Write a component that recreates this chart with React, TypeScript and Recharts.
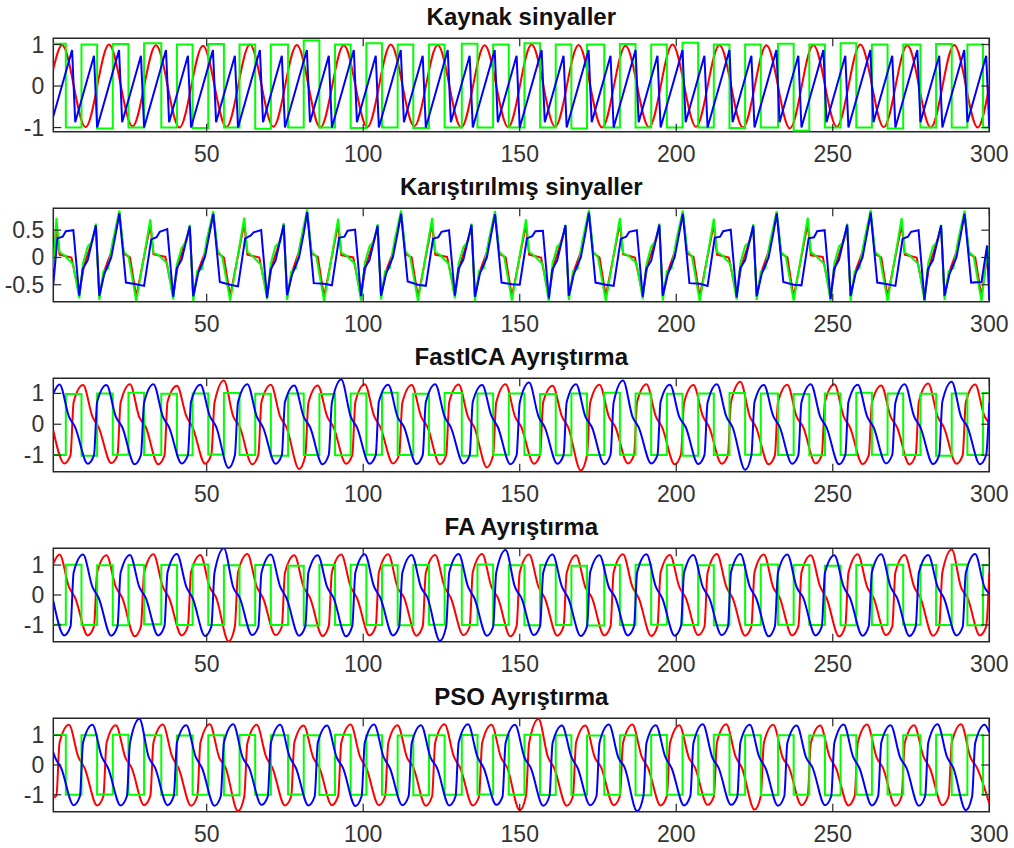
import React from "react";
import { LineChart, Line, XAxis, YAxis, ReferenceArea } from "recharts";

type Pt = [number, number];

const xTicks = [50, 100, 150, 200, 250, 300];

// Kaynak sinyaller
const kaynakRed: Pt[] = [[1,0.41],[3.8,0.99],[11.3,-0.99],[18.8,1],[26.3,-0.97],[33.8,0.98],[41.3,-1],[48.8,0.97],[56.3,-0.99],[63.8,1],[71.3,-0.98],[78.8,0.99],[86.3,-1],[93.8,0.98],[101.3,-0.99],[108.8,1],[116.3,-0.97],[123.8,0.99],[131.3,-1],[138.8,0.98],[146.3,-0.99],[153.8,1],[161.3,-0.98],[168.8,0.99],[176.3,-1],[183.8,0.97],[191.3,-0.99],[198.8,1],[206.3,-0.98],[213.8,0.99],[221.3,-1],[228.8,0.98],[236.3,-1.02],[243.8,0.99],[251.3,-0.98],[258.8,1],[266.3,-0.99],[273.8,0.98],[281.3,-1],[288.8,0.99],[296.3,-1],[300,0]];
const kaynakGreen: Pt[] = [[1,1.02],[5,-1],[10,1],[15,-1.02],[20,1.01],[25,-1],[30,1.03],[35.5,-1],[40.5,1],[45.5,-1.01],[50.5,1.01],[55.5,-1],[60.5,1],[65.5,-1.03],[70.5,1],[76,-1],[81,1.1],[86,-1],[91,1],[96,-1.01],[101,1.03],[106,-1],[111,1],[116,-1.01],[121,1],[126,-1],[131.5,1.02],[136.5,-1],[141.5,1],[146.5,-1],[151.5,1.03],[156.5,-1],[161.5,1],[166.5,-1.02],[171.5,1],[177,-1],[182,1.01],[187,-1],[192,1],[197,-1],[202,1.04],[207,-1],[212,1],[217,-1.01],[222,1],[227,-1],[232.5,1.02],[237.5,-1.08],[242.5,1],[247.5,-1],[252.5,1.03],[257.5,-1],[262.5,1],[267.5,-1.02],[272.5,1],[278,-1],[283,1.01],[288,-1],[293,1],[298,-1],[300,-1]];
const kaynakBlue: Pt[] = [[1,-0.73],[7,0.87],[8,-0.87],[14,0.73],[15,-1],[22,0.87],[23,-0.87],[29,0.73],[30,-1],[37,0.87],[38,-0.87],[44,0.73],[45,-1],[52,0.87],[53,-0.87],[59,0.73],[60,-1],[67,0.87],[68,-0.87],[74,0.73],[75,-1],[82,0.87],[83,-0.87],[89,0.73],[90,-1],[97,0.87],[98,-0.87],[104,0.73],[105,-1],[112,0.87],[113,-0.87],[119,0.73],[120,-1],[127,0.87],[128,-0.87],[134,0.73],[135,-1],[142,0.87],[143,-0.87],[149,0.73],[150,-1],[157,0.87],[158,-0.87],[164,0.73],[165,-1],[172,0.87],[173,-0.87],[179,0.73],[180,-1],[187,0.87],[188,-0.87],[194,0.73],[195,-1],[202,0.87],[203,-0.87],[209,0.73],[210,-1],[217,0.87],[218,-0.87],[224,0.73],[225,-1],[232,0.87],[233,-0.87],[239,0.73],[240,-1],[247,0.87],[248,-0.87],[254,0.73],[255,-1],[262,0.87],[263,-0.87],[269,0.73],[270,-1],[277,0.87],[278,-0.87],[284,0.73],[285,-1],[292,0.87],[293,-0.87],[299,0.73],[300,-1]];

// Karıştırılmış sinyaller
const karisikRed: Pt[] = [[1,-0.15],[2,0.62],[3,0.05],[6.8,0],[9.3,-0.68],[10.8,-0.15],[12.5,0.15],[14.6,0.55],[15.7,-0.72],[17.3,-0.25],[19.5,0.1],[22.1,0.8],[23.5,0.07],[25.5,0],[27.5,-0.72],
[32,0.6],[33,0.06],[36.8,0.01],[39.3,-0.7],[40.8,-0.14],[42.5,0.16],[44.6,0.54],[45.7,-0.73],[47.3,-0.24],[49.5,0.1],[52.1,0.79],[53.5,0.08],[55.5,0],[57.5,-0.71],
[62,0.63],[63,0.05],[66.8,0],[69.3,-0.69],[70.8,-0.15],[72.5,0.14],[74.6,0.56],[75.7,-0.72],[77.3,-0.26],[79.5,0.11],[82.1,0.81],[83.5,0.07],[85.5,0.01],[87.5,-0.72],
[92,0.61],[93,0.04],[96.8,0],[99.3,-0.7],[100.8,-0.15],[102.5,0.15],[104.6,0.55],[105.7,-0.71],[107.3,-0.25],[109.5,0.09],[112.1,0.8],[113.5,0.06],[115.5,0],[117.5,-0.73],
[122,0.62],[123,0.05],[126.8,0.01],[129.3,-0.68],[130.8,-0.16],[132.5,0.15],[134.6,0.54],[135.7,-0.72],[137.3,-0.25],[139.5,0.1],[142.1,0.79],[143.5,0.07],[145.5,0],[147.5,-0.72],
[152,0.6],[153,0.05],[156.8,0],[159.3,-0.71],[160.8,-0.15],[162.5,0.16],[164.6,0.55],[165.7,-0.73],[167.3,-0.25],[169.5,0.1],[172.1,0.81],[173.5,0.08],[175.5,0],[177.5,-0.71],
[182,0.63],[183,0.06],[186.8,0],[189.3,-0.69],[190.8,-0.14],[192.5,0.15],[194.6,0.56],[195.7,-0.72],[197.3,-0.26],[199.5,0.1],[202.1,0.8],[203.5,0.07],[205.5,0.01],[207.5,-0.72],
[212,0.61],[213,0.05],[216.8,0],[219.3,-0.7],[220.8,-0.15],[222.5,0.14],[224.6,0.54],[225.7,-0.71],[227.3,-0.25],[229.5,0.11],[232.1,0.79],[233.5,0.07],[235.5,0],[237.5,-0.73],
[242,0.62],[243,0.04],[246.8,0.01],[249.3,-0.72],[250.8,-0.15],[252.5,0.15],[254.6,0.55],[255.7,-0.72],[257.3,-0.24],[259.5,0.1],[262.1,0.8],[263.5,0.06],[265.5,0],[267.5,-0.72],
[272,0.6],[273,0.05],[276.8,0],[279.3,-0.72],[280.8,-0.15],[282.5,0.15],[284.6,0.55],[285.7,-0.72],[287.3,-0.25],[289.5,0.1],[292.1,0.81],[293.5,0.07],[295.5,0],[297.5,-0.72],[299.5,0.1],[300,-0.6]];
const karisikGreen: Pt[] = [[1,-0.2],[2,0.72],[3,0.1],[4.5,0.04],[7.3,-0.12],[9.3,-0.75],[10.5,-0.1],[12,0.2],[13.5,0.3],[14.6,0.62],[15.7,-0.78],[17,-0.25],[18.5,-0.2],[20,0.3],[22.1,0.86],[23.5,0.1],[25,0.02],[27.5,-0.8],
[32,0.7],[33,0.08],[34.5,0.05],[37.3,-0.1],[39.3,-0.77],[40.5,-0.12],[42,0.18],[43.5,0.3],[44.6,0.6],[45.7,-0.8],[47,-0.24],[48.5,-0.21],[50,0.32],[52.1,0.85],[53.5,0.12],[55,0],[57.5,-0.79],
[62,0.73],[63,0.1],[64.5,0.03],[67.3,-0.13],[69.3,-0.76],[70.5,-0.1],[72,0.21],[73.5,0.29],[74.6,0.63],[75.7,-0.78],[77,-0.26],[78.5,-0.2],[80,0.3],[82.1,0.88],[83.5,0.1],[85,0.02],[87.5,-0.8],
[92,0.71],[93,0.09],[94.5,0.04],[97.3,-0.11],[99.3,-0.79],[100.5,-0.1],[102,0.2],[103.5,0.31],[104.6,0.61],[105.7,-0.77],[107,-0.25],[108.5,-0.19],[110,0.31],[112.1,0.86],[113.5,0.11],[115,0.01],[117.5,-0.8],
[122,0.72],[123,0.1],[124.5,0.05],[127.3,-0.12],[129.3,-0.75],[130.5,-0.11],[132,0.19],[133.5,0.3],[134.6,0.62],[135.7,-0.8],[137,-0.24],[138.5,-0.2],[140,0.29],[142.1,0.85],[143.5,0.1],[145,0.02],[147.5,-0.79],
[152,0.7],[153,0.1],[154.5,0.04],[157.3,-0.12],[159.3,-0.8],[160.5,-0.1],[162,0.2],[163.5,0.3],[164.6,0.6],[165.7,-0.78],[167,-0.25],[168.5,-0.21],[170,0.3],[172.1,0.87],[173.5,0.1],[175,0],[177.5,-0.8],
[182,0.72],[183,0.08],[184.5,0.04],[187.3,-0.1],[189.3,-0.76],[190.5,-0.12],[192,0.2],[193.5,0.31],[194.6,0.62],[195.7,-0.79],[197,-0.25],[198.5,-0.2],[200,0.31],[202.1,0.86],[203.5,0.12],[205,0.02],[207.5,-0.8],
[212,0.71],[213,0.1],[214.5,0.05],[217.3,-0.12],[219.3,-0.77],[220.5,-0.1],[222,0.21],[223.5,0.3],[224.6,0.61],[225.7,-0.78],[227,-0.26],[228.5,-0.2],[230,0.3],[232.1,0.85],[233.5,0.1],[235,0.01],[237.5,-0.79],
[242,0.73],[243,0.1],[244.5,0.03],[247.3,-0.12],[249.3,-0.8],[250.5,-0.11],[252,0.2],[253.5,0.29],[254.6,0.62],[255.7,-0.8],[257,-0.25],[258.5,-0.2],[260,0.3],[262.1,0.87],[263.5,0.1],[265,0.02],[267.5,-0.8],
[272,0.72],[273,0.09],[274.5,0.04],[277.3,-0.12],[279.3,-0.8],[280.5,-0.1],[282,0.2],[283.5,0.3],[284.6,0.6],[285.7,-0.78],[287,-0.25],[288.5,-0.2],[290,0.31],[292.1,0.86],[293.5,0.1],[295,0.02],[297.5,-0.8],[299.5,0.2],[300,-0.75]];
const karisikBlue: Pt[] = [[1,-0.5],[2.3,0.35],[4,0.38],[5,0.48],[7.4,0.5],[9.3,-0.7],[10.4,-0.21],[12,-0.05],[14.6,0.59],[15.7,-0.7],[17.3,-0.3],[19.5,0],[21,0.45],[22.1,0.81],[24.2,-0.46],[27.5,-0.49],
[30,-0.52],[32.3,0.33],[34,0.37],[35,0.47],[37.4,0.52],[39.3,-0.72],[40.4,-0.2],[42,-0.04],[44.6,0.57],[45.7,-0.71],[47.3,-0.28],[49.5,0.02],[51,0.47],[52.1,0.8],[54.2,-0.45],[57.5,-0.5],
[60,-0.53],[62.3,0.35],[64,0.4],[65,0.46],[67.4,0.5],[69.3,-0.74],[70.4,-0.22],[72,-0.06],[74.6,0.6],[75.7,-0.69],[77.3,-0.31],[79.5,0],[81,0.44],[82.1,0.83],[84.2,-0.47],[87.5,-0.48],
[90,-0.51],[92.3,0.36],[94,0.38],[95,0.49],[97.4,0.51],[99.3,-0.71],[100.4,-0.2],[102,-0.05],[104.6,0.58],[105.7,-0.7],[107.3,-0.3],[109.5,0.01],[111,0.45],[112.1,0.8],[114.2,-0.44],[117.5,-0.5],
[120,-0.52],[122.3,0.34],[124,0.37],[125,0.47],[127.4,0.5],[129.3,-0.7],[130.4,-0.21],[132,-0.04],[134.6,0.6],[135.7,-0.72],[137.3,-0.29],[139.5,0],[141,0.46],[142.1,0.79],[144.2,-0.46],[147.5,-0.49],
[150,-0.5],[152.3,0.35],[154,0.39],[155,0.48],[157.4,0.49],[159.3,-0.75],[160.4,-0.22],[162,-0.05],[164.6,0.59],[165.7,-0.7],[167.3,-0.3],[169.5,0],[171,0.45],[172.1,0.82],[174.2,-0.46],[177.5,-0.5],
[180,-0.52],[182.3,0.34],[184,0.38],[185,0.47],[187.4,0.5],[189.3,-0.72],[190.4,-0.21],[192,-0.06],[194.6,0.6],[195.7,-0.7],[197.3,-0.31],[199.5,0.01],[201,0.46],[202.1,0.8],[204.2,-0.47],[207.5,-0.48],
[210,-0.52],[212.3,0.36],[214,0.38],[215,0.48],[217.4,0.51],[219.3,-0.73],[220.4,-0.2],[222,-0.05],[224.6,0.58],[225.7,-0.71],[227.3,-0.3],[229.5,0],[231,0.44],[232.1,0.81],[234.2,-0.45],[237.5,-0.5],
[240,-0.51],[242.3,0.35],[244,0.37],[245,0.48],[247.4,0.5],[249.3,-0.76],[250.4,-0.21],[252,-0.04],[254.6,0.6],[255.7,-0.7],[257.3,-0.29],[259.5,0],[261,0.46],[262.1,0.82],[264.2,-0.46],[267.5,-0.49],
[270,-0.52],[272.3,0.34],[274,0.38],[275,0.47],[277.4,0.5],[279.3,-0.78],[280.4,-0.21],[282,-0.05],[284.6,0.59],[285.7,-0.7],[287.3,-0.3],[289.5,0],[291,0.45],[292.1,0.8],[294.2,-0.46],[297.5,-0.45],[299.3,0.22],[300,-0.78]];

// FastICA Ayrıştırma
const fasticaRed: Pt[] = [[1,-0.2],[4.5,-1.27],[6.5,-1],
[7.5,0.72],[10.5,1.27],[13.5,0.25],[15.5,-0.1],[19.5,-1.26],[21.5,-1],[22.5,0.7],[25.5,1.3],[28.5,0.22],[30.5,-0.08],[34.5,-1.3],[36.5,-1.02],
[37.5,0.74],[40.5,1.25],[43.5,0.26],[45.5,-0.1],[49.5,-1.28],[51.5,-0.98],[52.5,0.7],[55.5,1.42],[58.5,0.25],[60.5,-0.07],[64.5,-1.3],[66.5,-1],
[67.5,0.72],[70.5,1.28],[73.5,0.24],[75.5,-0.1],[79.5,-1.45],[81.5,-1.02],[82.5,0.7],[85.5,1.26],[88.5,0.25],[90.5,-0.09],[94.5,-1.28],[96.5,-1],
[97.5,0.73],[100.5,1.3],[103.5,0.26],[105.5,-0.1],[109.5,-1.27],[111.5,-0.99],[112.5,0.7],[115.5,1.27],[118.5,0.25],[120.5,-0.08],[124.5,-1.3],[126.5,-1],
[127.5,0.72],[130.5,1.29],[133.5,0.23],[135.5,-0.1],[139.5,-1.4],[141.5,-1.01],[142.5,0.71],[145.5,1.3],[148.5,0.25],[150.5,-0.09],[154.5,-1.28],[156.5,-1],
[157.5,0.72],[160.5,1.25],[163.5,0.25],[165.5,-0.1],[169.5,-1.5],[171.5,-1],[172.5,0.7],[175.5,1.28],[178.5,0.24],[180.5,-0.08],[184.5,-1.27],[186.5,-1],
[187.5,0.73],[190.5,1.3],[193.5,0.25],[195.5,-0.1],[199.5,-1.3],[201.5,-0.98],[202.5,0.7],[205.5,1.27],[208.5,0.26],[210.5,-0.09],[214.5,-1.28],[216.5,-1],
[217.5,0.72],[220.5,1.38],[223.5,0.25],[225.5,-0.1],[229.5,-1.3],[231.5,-1.01],[232.5,0.71],[235.5,1.28],[238.5,0.23],[240.5,-0.08],[244.5,-1.27],[246.5,-1],
[247.5,0.72],[250.5,1.3],[253.5,0.25],[255.5,-0.1],[259.5,-1.29],[261.5,-1],[262.5,0.7],[265.5,1.26],[268.5,0.24],[270.5,-0.09],[274.5,-1.3],[276.5,-0.99],
[277.5,0.73],[280.5,1.32],[283.5,0.25],[285.5,-0.1],[289.5,-1.28],[291.5,-1],[292.5,0.71],[295.5,1.29],[298.5,0.25],[300,0.05]];
const fasticaGreen: Pt[] = [[1,-1],[5,0.98],[10,-1.02],[15,1],[20,-0.99],[25,1.02],[30,-1],[35.5,0.99],[40.5,-1.01],[45.5,1],[50.5,-0.98],[55.5,1.01],[60.5,-1],[65.5,0.99],[70.5,-1.02],[76,1],[81,-1],[86,0.98],[91,-1.01],[96,1],[101,-0.99],[106,1.02],[111,-1],[116,0.99],[121,-1],[126,1.01],[131.5,-1.02],[136.5,1],[141.5,-0.99],[146.5,1],[151.5,-1],[156.5,0.98],[161.5,-1.01],[166.5,1],[171.5,-1],[177,1.02],[182,-0.99],[187,1],[192,-1],[197,0.99],[202,-1.02],[207,1],[212,-1],[217,1.01],[222,-0.99],[227,1],[232.5,-1],[237.5,0.98],[242.5,-1.01],[247.5,1],[252.5,-1],[257.5,1.02],[262.5,-0.99],[267.5,1],[272.5,-1],[278,0.99],[283,-1.02],[288,1],[293,-1],[298,1.01],[300,1.01]];
const fasticaBlue: Pt[] = [[1,1],[3,1.29],[6,0.25],[8,-0.1],[12,-1.28],[14,-1],
[15,0.72],[18,1.27],[21,0.24],[23,-0.09],[27,-1.3],[29,-1],[30,0.7],[33,1.3],[36,0.25],[38,-0.1],[42,-1.27],[44,-1],
[45,0.73],[48,1.28],[51,0.26],[53,-0.08],[57,-1.42],[59,-1.01],[60,0.71],[63,1.3],[66,0.25],[68,-0.1],[72,-1.28],[74,-1],
[75,0.72],[78,1.26],[81,0.24],[83,-0.09],[87,-1.3],[89,-0.99],[90,0.7],[93,1.45],[96,0.25],[98,-0.1],[102,-1.28],[104,-1],
[105,0.73],[108,1.28],[111,0.23],[113,-0.08],[117,-1.29],[119,-1],[120,0.71],[123,1.3],[126,0.25],[128,-0.1],[132,-1.27],[134,-1.01],
[135,0.72],[138,1.27],[141,0.26],[143,-0.09],[147,-1.3],[149,-1],[150,0.7],[153,1.35],[156,0.25],[158,-0.1],[162,-1.28],[164,-1],
[165,0.72],[168,1.3],[171,0.24],[173,-0.08],[177,-1.3],[179,-0.99],[180,0.71],[183,1.42],[186,0.25],[188,-0.1],[192,-1.27],[194,-1],
[195,0.73],[198,1.28],[201,0.23],[203,-0.09],[207,-1.29],[209,-1],[210,0.7],[213,1.3],[216,0.25],[218,-0.1],[222,-1.48],[224,-1.01],
[225,0.72],[228,1.27],[231,0.26],[233,-0.08],[237,-1.28],[239,-1],[240,0.71],[243,1.3],[246,0.24],[248,-0.1],[252,-1.3],[254,-1],
[255,0.72],[258,1.28],[261,0.25],[263,-0.09],[267,-1.27],[269,-0.99],[270,0.7],[273,1.3],[276,0.25],[278,-0.1],[282,-1.29],[284,-1],
[285,0.73],[288,1.38],[291,0.24],[293,-0.08],[297,-1.3],[299,-1],[300,0.7]];

// FA Ayrıştırma
const faRed: Pt[] = [[1,1.05],[3,1.35],[6,0.27],[8,-0.1],[12,-1.35],[14,-1.05],
[15,0.75],[18,1.33],[21,0.26],[23,-0.09],[27,-1.38],[29,-1.05],[30,0.74],[33,1.36],[36,0.27],[38,-0.1],[42,-1.35],[44,-1.04],
[45,0.76],[48,1.34],[51,0.25],[53,-0.08],[57,-1.55],[59,-1.05],[60,0.75],[63,1.37],[66,0.27],[68,-0.1],[72,-1.34],[74,-1.06],
[75,0.74],[78,1.33],[81,0.26],[83,-0.09],[87,-1.37],[89,-1.04],[90,0.76],[93,1.35],[96,0.27],[98,-0.1],[102,-1.35],[104,-1.05],
[105,0.75],[108,1.36],[111,0.25],[113,-0.08],[117,-1.36],[119,-1.05],[120,0.74],[123,1.34],[126,0.27],[128,-0.1],[132,-1.34],[134,-1.06],
[135,0.76],[138,1.37],[141,0.26],[143,-0.09],[147,-1.38],[149,-1.04],[150,0.75],[153,1.35],[156,0.27],[158,-0.1],[162,-1.36],[164,-1.05],
[165,0.74],[168,1.33],[171,0.25],[173,-0.08],[177,-1.35],[179,-1.05],[180,0.76],[183,1.36],[186,0.27],[188,-0.1],[192,-1.37],[194,-1.04],
[195,0.75],[198,1.34],[201,0.26],[203,-0.09],[207,-1.34],[209,-1.06],[210,0.74],[213,1.37],[216,0.27],[218,-0.1],[222,-1.36],[224,-1.05],
[225,0.76],[228,1.35],[231,0.25],[233,-0.08],[237,-1.35],[239,-1.05],[240,0.75],[243,1.33],[246,0.27],[248,-0.1],[252,-1.38],[254,-1.04],
[255,0.74],[258,1.36],[261,0.26],[263,-0.09],[267,-1.34],[269,-1.05],[270,0.76],[273,1.34],[276,0.27],[278,-0.1],[282,-1.36],[284,-1.06],
[285,0.75],[288,1.52],[291,0.25],[293,-0.08],[297,-1.35],[299,-1.05],[300,0.75]];
const faGreen: Pt[] = [[1,-0.99],[5,1.01],[10,-1],[15,0.99],[20,-1.01],[25,1],[30,-0.98],[35.5,1],[40.5,-1],[45.5,1.02],[50.5,-1],[55.5,0.99],[60.5,-1.01],[65.5,1],[70.5,-1],[76,0.98],[81,-1.02],[86,1],[91,-1],[96,1.01],[101,-1],[106,0.99],[111,-1.01],[116,1],[121,-0.99],[126,1],[131.5,-1],[136.5,1.02],[141.5,-1],[146.5,0.99],[151.5,-1.01],[156.5,1],[161.5,-1],[166.5,0.98],[171.5,-1.02],[177,1],[182,-1],[187,1.01],[192,-0.99],[197,1],[202,-1],[207,0.99],[212,-1.01],[217,1],[222,-1],[227,1.02],[232.5,-0.99],[237.5,1],[242.5,-1],[247.5,0.98],[252.5,-1.01],[257.5,1],[262.5,-1],[267.5,1.01],[272.5,-0.99],[278,1],[283,-1],[288,1.02],[293,-1.01],[298,1],[300,1]];
const faBlue: Pt[] = [[1,-0.2],[4.5,-1.35],[6.5,-1.05],
[7.5,0.75],[10.5,1.35],[13.5,0.27],[15.5,-0.1],[19.5,-1.36],[21.5,-1.05],[22.5,0.74],[25.5,1.34],[28.5,0.26],[30.5,-0.09],[34.5,-1.35],[36.5,-1.04],
[37.5,0.76],[40.5,1.37],[43.5,0.27],[45.5,-0.1],[49.5,-1.37],[51.5,-1.05],[52.5,0.75],[55.5,1.56],[58.5,0.25],[60.5,-0.08],[64.5,-1.34],[66.5,-1.06],
[67.5,0.74],[70.5,1.35],[73.5,0.27],[75.5,-0.1],[79.5,-1.36],[81.5,-1.05],[82.5,0.76],[85.5,1.33],[88.5,0.26],[90.5,-0.09],[94.5,-1.38],[96.5,-1.04],
[97.5,0.75],[100.5,1.36],[103.5,0.27],[105.5,-0.1],[109.5,-1.35],[111.5,-1.05],[112.5,0.74],[115.5,1.34],[118.5,0.25],[120.5,-0.08],[124.5,-1.53],[126.5,-1.05],
[127.5,0.76],[130.5,1.37],[133.5,0.27],[135.5,-0.1],[139.5,-1.36],[141.5,-1.06],[142.5,0.75],[145.5,1.5],[148.5,0.26],[150.5,-0.09],[154.5,-1.34],[156.5,-1.04],
[157.5,0.74],[160.5,1.35],[163.5,0.27],[165.5,-0.1],[169.5,-1.37],[171.5,-1.05],[172.5,0.76],[175.5,1.33],[178.5,0.25],[180.5,-0.08],[184.5,-1.35],[186.5,-1.05],
[187.5,0.75],[190.5,1.36],[193.5,0.27],[195.5,-0.1],[199.5,-1.36],[201.5,-1.04],[202.5,0.74],[205.5,1.34],[208.5,0.26],[210.5,-0.09],[214.5,-1.34],[216.5,-1.06],
[217.5,0.76],[220.5,1.37],[223.5,0.27],[225.5,-0.1],[229.5,-1.38],[231.5,-1.05],[232.5,0.75],[235.5,1.35],[238.5,0.25],[240.5,-0.08],[244.5,-1.35],[246.5,-1.05],
[247.5,0.74],[250.5,1.33],[253.5,0.27],[255.5,-0.1],[259.5,-1.36],[261.5,-1.04],[262.5,0.76],[265.5,1.36],[268.5,0.26],[270.5,-0.09],[274.5,-1.37],[276.5,-1.05],
[277.5,0.75],[280.5,1.34],[283.5,0.27],[285.5,-0.1],[289.5,-1.35],[291.5,-1.06],[292.5,0.74],[295.5,1.37],[298.5,0.25],[300,0.05]];

// PSO Ayrıştırma
const psoRed: Pt[] = [[1,-1.1],[2,-1.02],
[3,0.75],[6,1.35],[9,0.27],[11,-0.1],[15,-1.36],[17,-1.05],[18,0.74],[21,1.34],[24,0.26],[26,-0.09],[30,-1.35],[32,-1.04],
[33,0.76],[36,1.36],[39,0.27],[41,-0.1],[45,-1.37],[47,-1.05],[48,0.75],[51,1.37],[54,0.25],[56,-0.08],[60,-1.55],[62,-1.06],
[63,0.74],[66,1.35],[69,0.27],[71,-0.1],[75,-1.36],[77,-1.05],[78,0.76],[81,1.33],[84,0.26],[86,-0.09],[90,-1.35],[92,-1.04],
[93,0.75],[96,1.36],[99,0.27],[101,-0.1],[105,-1.35],[107,-1.05],[108,0.74],[111,1.34],[114,0.25],[116,-0.08],[120,-1.37],[122,-1.05],
[123,0.76],[126,1.37],[129,0.27],[131,-0.1],[135,-1.36],[137,-1.06],[138,0.75],[141,1.35],[144,0.26],[146,-0.09],[150,-1.52],[152,-1.04],
[153,0.74],[156,1.55],[159,0.27],[161,-0.1],[165,-1.37],[167,-1.05],[168,0.76],[171,1.33],[174,0.25],[176,-0.08],[180,-1.35],[182,-1.05],
[183,0.75],[186,1.36],[189,0.27],[191,-0.1],[195,-1.36],[197,-1.04],[198,0.74],[201,1.34],[204,0.26],[206,-0.09],[210,-1.34],[212,-1.06],
[213,0.76],[216,1.37],[219,0.27],[221,-0.1],[225,-1.5],[227,-1.05],[228,0.75],[231,1.35],[234,0.25],[236,-0.08],[240,-1.35],[242,-1.05],
[243,0.74],[246,1.33],[249,0.27],[251,-0.1],[255,-1.36],[257,-1.04],[258,0.76],[261,1.36],[264,0.26],[266,-0.09],[270,-1.37],[272,-1.05],
[273,0.75],[276,1.34],[279,0.27],[281,-0.1],[285,-1.35],[287,-1.06],[288,0.74],[291,1.37],[294,0.25],[296,-0.08],[300,-1.3]];
const psoGreen: Pt[] = [[1,1.01],[5,-1],[10,1],[15,-0.99],[20,1.02],[25,-1],[30,1],[35.5,-1.01],[40.5,0.99],[45.5,-1],[50.5,1],[55.5,-1.02],[60.5,1.01],[65.5,-1],[70.5,1],[76,-0.99],[81,1],[86,-1.01],[91,1.02],[96,-1],[101,1],[106,-1],[111,0.99],[116,-1.02],[121,1],[126,-1],[131.5,1.01],[136.5,-0.99],[141.5,1],[146.5,-1],[151.5,1.02],[156.5,-1.01],[161.5,1],[166.5,-1],[171.5,0.99],[177,-1],[182,1],[187,-1.02],[192,1.01],[197,-1],[202,1],[207,-0.99],[212,1.02],[217,-1],[222,1],[227,-1.01],[232.5,1],[237.5,-1],[242.5,0.99],[247.5,-1.02],[252.5,1],[257.5,-1],[262.5,1.01],[267.5,-0.99],[272.5,1],[278,-1],[283,1.02],[288,-1.01],[293,1],[298,-1],[300,-1]];
const psoBlue: Pt[] = [[1,0.42],[1.5,0.27],[3.5,-0.1],[7.5,-1.35],[9.5,-1.05],
[10.5,0.75],[13.5,1.35],[16.5,0.27],[18.5,-0.1],[22.5,-1.36],[24.5,-1.05],[25.5,0.74],[28.5,1.55],[31.5,0.26],[33.5,-0.09],[37.5,-1.35],[39.5,-1.04],
[40.5,0.76],[43.5,1.34],[46.5,0.27],[48.5,-0.1],[52.5,-1.37],[54.5,-1.05],[55.5,0.75],[58.5,1.37],[61.5,0.25],[63.5,-0.08],[67.5,-1.34],[69.5,-1.06],
[70.5,0.74],[73.5,1.35],[76.5,0.27],[78.5,-0.1],[82.5,-1.36],[84.5,-1.05],[85.5,0.76],[88.5,1.33],[91.5,0.26],[93.5,-0.09],[97.5,-1.38],[99.5,-1.04],
[100.5,0.75],[103.5,1.36],[106.5,0.27],[108.5,-0.1],[112.5,-1.35],[114.5,-1.05],[115.5,0.74],[118.5,1.34],[121.5,0.25],[123.5,-0.08],[127.5,-1.36],[129.5,-1.05],
[130.5,0.76],[133.5,1.37],[136.5,0.27],[138.5,-0.1],[142.5,-1.34],[144.5,-1.06],[145.5,0.75],[148.5,1.35],[151.5,0.26],[153.5,-0.09],[157.5,-1.37],[159.5,-1.04],
[160.5,0.74],[163.5,1.33],[166.5,0.27],[168.5,-0.1],[172.5,-1.35],[174.5,-1.05],[175.5,0.76],[178.5,1.36],[181.5,0.25],[183.5,-0.08],[187.5,-1.55],[189.5,-1.05],
[190.5,0.75],[193.5,1.34],[196.5,0.27],[198.5,-0.1],[202.5,-1.36],[204.5,-1.04],[205.5,0.74],[208.5,1.37],[211.5,0.26],[213.5,-0.09],[217.5,-1.34],[219.5,-1.06],
[220.5,0.76],[223.5,1.35],[226.5,0.27],[228.5,-0.1],[232.5,-1.37],[234.5,-1.05],[235.5,0.75],[238.5,1.33],[241.5,0.25],[243.5,-0.08],[247.5,-1.35],[249.5,-1.05],
[250.5,0.74],[253.5,1.36],[256.5,0.27],[258.5,-0.1],[262.5,-1.36],[264.5,-1.04],[265.5,0.76],[268.5,1.34],[271.5,0.26],[273.5,-0.09],[277.5,-1.37],[279.5,-1.05],
[280.5,0.75],[283.5,1.37],[286.5,0.27],[288.5,-0.1],[292.5,-1.52],[294.5,-1.06],[295.5,0.74],[298.5,1.35],[300,1.1]];

const W = 1014;
const PANEL_H = 170;
const LEFT = 53.3;
const RIGHT = 24.7;
const TOP = 38.3;
const PLOT_H = 93.4;
const AXIS_H = 30;
const PLOT_W = W - LEFT - RIGHT;
const INK = "#262626";
const FONT = "'Liberation Sans', Arial, Helvetica, sans-serif";

type Curve = "linear" | "monotone" | "stepAfter";
type Series = { pts: Pt[]; color: string; curve: Curve };

const toRows = (pts: Pt[]) => pts.map(([x, y]) => ({ x, y }));

function XTick(props: any) {
  const { x, y, payload } = props;
  return (
    <g>
      <line x1={x} x2={x} y1={y} y2={y - 8} stroke={INK} strokeWidth={1.2} />
      <line x1={x} x2={x} y1={y - PLOT_H} y2={y - PLOT_H + 8} stroke={INK} strokeWidth={1.2} />
      <text x={x} y={y + 30} textAnchor="middle" fontSize={23} fontFamily={FONT} fill="#333">
        {payload.value}
      </text>
    </g>
  );
}

function YTick(props: any) {
  const { x, y, payload } = props;
  return (
    <g>
      <line x1={x} x2={x + 8} y1={y} y2={y} stroke={INK} strokeWidth={1.2} />
      <line x1={x + PLOT_W - 8} x2={x + PLOT_W} y1={y} y2={y} stroke={INK} strokeWidth={1.2} />
      <text x={x - 9} y={y + 8} textAnchor="end" fontSize={23} fontFamily={FONT} fill="#333">
        {String(payload.value)}
      </text>
    </g>
  );
}

function Panel({ index, title, domain, yTicks, series }: { index: number; title: string; domain: [number, number]; yTicks: number[]; series: Series[] }) {
  return (
    <div style={{ position: "absolute", left: 0, top: index * PANEL_H, width: W, height: PANEL_H }}>
      <LineChart
        width={W}
        height={PANEL_H}
        margin={{ top: TOP, right: RIGHT, bottom: PANEL_H - TOP - PLOT_H - AXIS_H, left: 0 }}
      >
        <XAxis
          dataKey="x"
          type="number"
          domain={[1, 300]}
          ticks={xTicks}
          allowDataOverflow
          height={AXIS_H}
          axisLine={false}
          tickLine={false}
          tickSize={0}
          tickMargin={0}
          interval={0}
          tick={<XTick />}
        />
        <YAxis
          type="number"
          domain={domain}
          ticks={yTicks}
          allowDataOverflow
          width={LEFT}
          axisLine={false}
          tickLine={false}
          tickSize={0}
          tickMargin={0}
          interval={0}
          tick={<YTick />}
        />
        <ReferenceArea x1={1} x2={300} y1={domain[0]} y2={domain[1]} fill="none" stroke={INK} strokeWidth={1.5} />
        {series.map((s, i) => (
          <Line
            key={i}
            data={toRows(s.pts)}
            dataKey="y"
            type={s.curve}
            stroke={s.color}
            strokeWidth={2}
            dot={false}
            activeDot={false}
            isAnimationActive={false}
          />
        ))}
      </LineChart>
      <svg width={W} height={36} style={{ position: "absolute", left: 0, top: 0, pointerEvents: "none" }}>
        <text
          x={LEFT + PLOT_W / 2}
          y={25}
          textAnchor="middle"
          fontSize={24}
          fontWeight="bold"
          fontFamily={FONT}
          fill="#111"
        >
          {title}
        </text>
      </svg>
    </div>
  );
}

const RED = "#ff0000";
const GREEN = "#00ff00";
const BLUE = "#0000ff";

export default function App() {
  return (
    <div style={{ position: "absolute", left: 0, top: 0, width: W, height: 848, background: "#fff" }}>
      <Panel
        index={0}
        title="Kaynak sinyaller"
        domain={[-1.1, 1.15]}
        yTicks={[-1, 0, 1]}
        series={[
          { pts: kaynakRed, color: RED, curve: "monotone" },
          { pts: kaynakGreen, color: GREEN, curve: "stepAfter" },
          { pts: kaynakBlue, color: BLUE, curve: "linear" },
        ]}
      />
      <Panel
        index={1}
        title="Karıştırılmış sinyaller"
        domain={[-0.81, 0.9]}
        yTicks={[-0.5, 0, 0.5]}
        series={[
          { pts: karisikRed, color: RED, curve: "linear" },
          { pts: karisikGreen, color: GREEN, curve: "linear" },
          { pts: karisikBlue, color: BLUE, curve: "linear" },
        ]}
      />
      <Panel
        index={2}
        title="FastICA Ayrıştırma"
        domain={[-1.54, 1.49]}
        yTicks={[-1, 0, 1]}
        series={[
          { pts: fasticaRed, color: RED, curve: "monotone" },
          { pts: fasticaGreen, color: GREEN, curve: "stepAfter" },
          { pts: fasticaBlue, color: BLUE, curve: "monotone" },
        ]}
      />
      <Panel
        index={3}
        title="FA Ayrıştırma"
        domain={[-1.56, 1.56]}
        yTicks={[-1, 0, 1]}
        series={[
          { pts: faRed, color: RED, curve: "monotone" },
          { pts: faGreen, color: GREEN, curve: "stepAfter" },
          { pts: faBlue, color: BLUE, curve: "monotone" },
        ]}
      />
      <Panel
        index={4}
        title="PSO Ayrıştırma"
        domain={[-1.57, 1.57]}
        yTicks={[-1, 0, 1]}
        series={[
          { pts: psoRed, color: RED, curve: "monotone" },
          { pts: psoGreen, color: GREEN, curve: "stepAfter" },
          { pts: psoBlue, color: BLUE, curve: "monotone" },
        ]}
      />
    </div>
  );
}
